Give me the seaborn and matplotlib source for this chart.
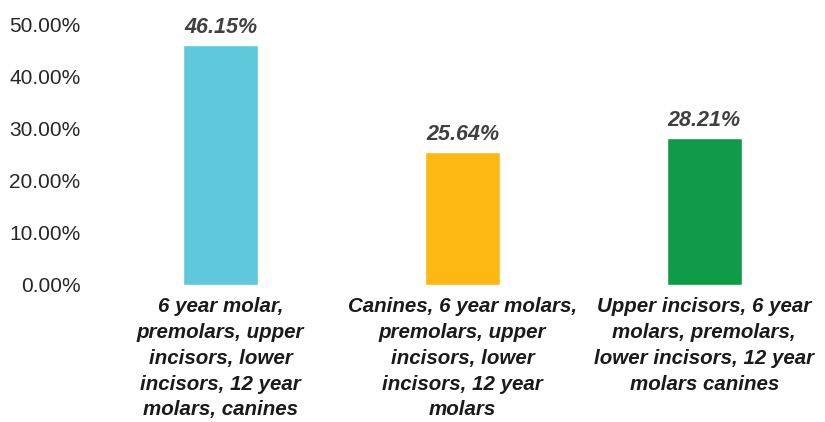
import matplotlib
matplotlib.use("Agg")
import matplotlib.pyplot as plt
import seaborn as sns
import pandas as pd
from matplotlib.ticker import FuncFormatter

categories = [
    "6 year molar,\npremolars, upper\nincisors, lower\nincisors, 12 year\nmolars, canines",
    "Canines, 6 year molars,\npremolars, upper\nincisors, lower\nincisors, 12 year\nmolars",
    "Upper incisors, 6 year\nmolars, premolars,\nlower incisors, 12 year\nmolars canines",
]
values = [46.15, 25.64, 28.21]
colors = ["#5fc9db", "#fdb813", "#0f9b47"]
yticks = [0, 10, 20, 30, 40, 50]

df = pd.DataFrame({"cat": categories, "val": values})

sns.set_theme(style="white")
plt.rcParams["font.family"] = ["Liberation Sans", "DejaVu Sans"]

fig = plt.figure(figsize=(8.25, 4.22), dpi=100)
ax = fig.add_axes([0.121, 0.325, 0.879, 0.616])

sns.barplot(data=df, x="cat", y="val", hue="cat", palette=colors,
            legend=False, width=0.31, ax=ax, saturation=1)

ax.set_ylim(0, 50)
ax.set_xlim(-0.5, 2.5)
ax.set_yticks(yticks)
ax.yaxis.set_major_formatter(FuncFormatter(lambda v, p: f"{v:.2f}%"))
ax.tick_params(axis="y", labelsize=15, labelcolor="#262626", length=0, pad=14)
ax.tick_params(axis="x", length=0, pad=9)
for lab in ax.get_xticklabels():
    lab.set_fontsize(14.8)
    lab.set_fontweight("bold")
    lab.set_fontstyle("italic")
    lab.set_color("#1a1a1a")
    lab.set_linespacing(1.45)
    lab.set_verticalalignment("top")
ax.set_xlabel("")
ax.set_ylabel("")
for s in ax.spines.values():
    s.set_visible(False)

for i, v in enumerate(values):
    ax.annotate(f"{v:.2f}%", (i, v), xytext=(0, 5), textcoords="offset points",
                ha="center", va="bottom", fontsize=15.5, fontweight="bold",
                fontstyle="italic", color="#404040")

fig.savefig("out.png", dpi=100, facecolor="white")
